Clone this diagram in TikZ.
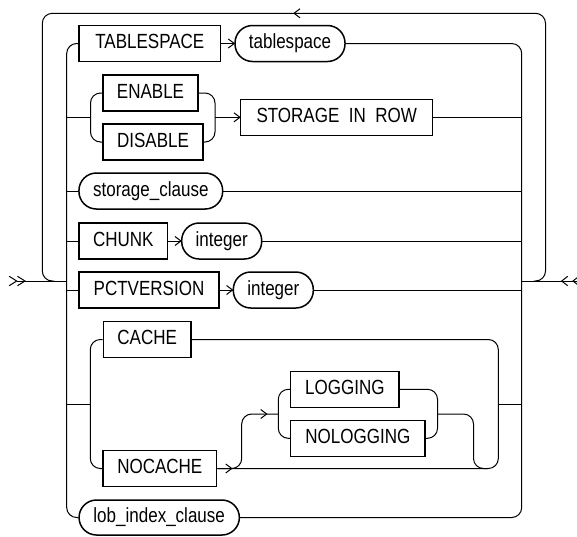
\documentclass[tikz,border=0pt]{standalone}
\usepackage{fontspec}
\setmainfont[FakeStretch=0.83]{Liberation Sans}
\usetikzlibrary{calc}
\begin{document}
\begin{tikzpicture}[x=1pt,y=-1pt,
  conn/.style={line width=1pt},
  rc/.style={conn, rounded corners=10pt},
  box/.style={draw, line width=1.5pt, inner sep=0pt, minimum height=36pt,
    text height=14.5pt, text depth=4.5pt, font=\fontsize{20.5}{23}\selectfont},
  kw/.style={box},
  ov/.style={box, rounded corners=17.5pt},
  chevR/.pic={\draw[conn] (-6,-4.5) -- (0,0) -- (-6,4.5);},
  chevL/.pic={\draw[conn] (6,-4.5) -- (0,0) -- (6,4.5);},
  chevE/.pic={\draw[conn] (-7.5,-4.7) -- (0,0) -- (-7.5,4.7);},
  chevX/.pic={\draw[conn] (6,-4.7) -- (0,0) -- (6,4.7);},
]
\useasboundingbox (0,0) rectangle (577,536);
\clip (0,0) rectangle (577,536);

% nodes
\node[kw, minimum width=141.7pt] (tsk) at (149.8,43.5) {TABLESPACE};
\node[ov, minimum width=110pt] (tsv) at (290,43.5) {tablespace};
\node[kw, minimum width=95pt] (en) at (150.5,93) {ENABLE};
\node[kw, minimum width=100pt] (dis) at (153,142) {DISABLE};
\node[kw, minimum width=192pt] (sir) at (336.7,117.3) {STORAGE\ \ IN\ \ ROW};
\node[ov, minimum width=143.7pt] (sc) at (150.8,191) {storage\_clause};
\node[kw, minimum width=88.7pt] (ch) at (123.3,241) {CHUNK};
\node[ov, minimum width=80pt] (i1) at (221.7,241) {integer};
\node[kw, minimum width=140pt] (pv) at (149,290) {PCTVERSION};
\node[ov, minimum width=80pt] (i2) at (273.3,290) {integer};
\node[kw, minimum width=87.7pt] (ca) at (147.2,339.5) {CACHE};
\node[kw, minimum width=113.7pt] (noc) at (159.8,468.5) {NOCACHE};
\node[kw, minimum width=108.3pt] (lg) at (344.8,389.3) {LOGGING};
\node[kw, minimum width=134.3pt] (nlg) at (357.8,438.3) {NOLOGGING};
\node[ov, minimum width=160.3pt, minimum height=35pt] (lob) at (159.2,517.5) {lob\_index\_clause};

% coordinates
\coordinate (start) at (16.7,281);
\coordinate (start2) at (25,281);
\coordinate (Lb) at (66.7,281);
\coordinate (Rb) at (521.7,281);
\coordinate (fin) at (577,281);
\coordinate (e1) at (561.7,281);
\coordinate (e2) at (573,281);
\coordinate (oL) at (42.3,281);
\coordinate (oR) at (545.5,281);
\coordinate (tL) at (42.3,13.3);
\coordinate (tR) at (545.5,13.3);
\coordinate (topar) at (294,13.3);
\coordinate (g1l) at (90.5,117.3);
\coordinate (g1r) at (215,117.3);
\coordinate (g2l) at (90.3,404.3);
\coordinate (g2r) at (498.3,404.3);
\coordinate (bx) at (241.7,414);
\coordinate (g3l) at (278.3,414);
\coordinate (g3r) at (437.5,414);
\coordinate (g3x) at (473.5,414);
\coordinate (a1) at (266.7,414);
\coordinate (a2) at (231.7,468.5);

% entry / exit
\draw[conn] (start) -- (Lb);
\pic at (start) {chevE};
\pic at (start2) {chevE};
\draw[conn] (Rb) -- (fin);
\pic at (e1) {chevX};
\pic at (e2) {chevX};

% outer loop
\draw[rc] ($(oL)+(12,0)$) -- (oL) -- (tL) -- (tR) -- (oR) -- ($(oR)+(-12,0)$);
\pic at (topar) {chevL};

% inner buses
\draw[rc] (tsk.west) -- (tsk.west -| Lb) -- (lob.west -| Lb) -- (lob.west);
\draw[rc] (tsv.east) -- (tsv.east -| Rb) -- (lob.east -| Rb) -- (lob.east);

% TABLESPACE
\draw[conn] (tsk.east) -- (tsv.west);
\pic at (tsv.west) {chevR};

% ENABLE / DISABLE
\draw[conn] (Lb |- g1l) -- (g1l);
\draw[rc] (en.west) -- (en.west -| g1l) -- (dis.west -| g1l) -- (dis.west);
\draw[rc] (en.east) -- (en.east -| g1r) -- (dis.east -| g1r) -- (dis.east);
\draw[conn] (g1r) -- (sir.west);
\pic at (sir.west) {chevR};
\draw[conn] (sir.east) -- (sir.east -| Rb);

% storage_clause
\draw[conn] (Lb |- sc.west) -- (sc.west);
\draw[conn] (sc.east) -- (sc.east -| Rb);

% CHUNK
\draw[conn] (Lb |- ch.west) -- (ch.west);
\draw[conn] (ch.east) -- (i1.west);
\pic at (i1.west) {chevR};
\draw[conn] (i1.east) -- (i1.east -| Rb);

% PCTVERSION
\draw[conn] (Lb |- pv.west) -- (pv.west);
\draw[conn] (pv.east) -- (i2.west);
\pic at (i2.west) {chevR};
\draw[conn] (i2.east) -- (i2.east -| Rb);

% CACHE group
\draw[conn] (Lb |- g2l) -- (g2l);
\draw[rc] (ca.west) -- (ca.west -| g2l) -- (noc.west -| g2l) -- (noc.west);
\draw[rc] (ca.east) -- (ca.east -| g2r) -- (noc.east -| g2r) -- (noc.east);
\draw[conn] (g2r) -- (g2r -| Rb);
\pic at (a2) {chevR};
\draw[rc] (noc.east) -- (noc.east -| bx) -- (bx) -- (g3l);
\pic at (a1) {chevR};

% LOGGING group
\draw[rc] (lg.west) -- (lg.west -| g3l) -- (nlg.west -| g3l) -- (nlg.west);
\draw[rc] (lg.east) -- (lg.east -| g3r) -- (nlg.east -| g3r) -- (nlg.east);
\draw[rc] (g3r) -- (g3x) -- (g3x |- noc.east) -- ($(g3x |- noc.east)+(14,0)$);
\end{tikzpicture}
\end{document}
